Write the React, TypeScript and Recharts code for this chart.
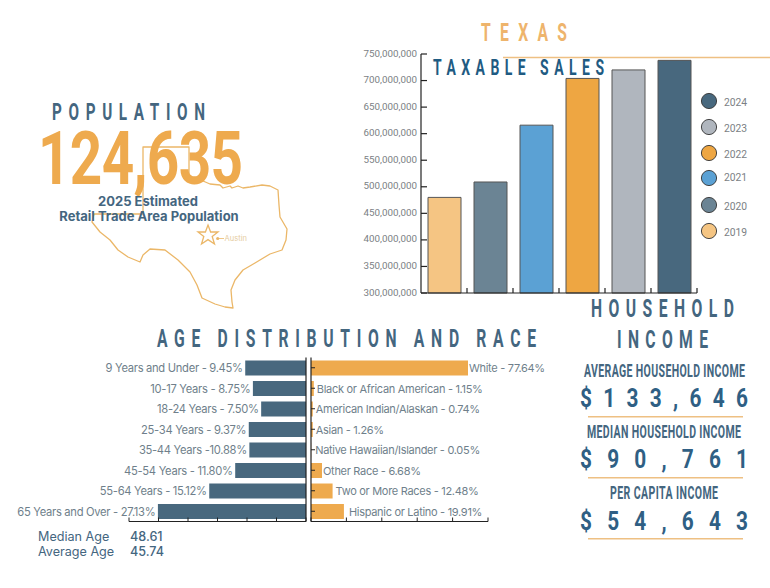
import React from "react";
import { BarChart, Bar, XAxis, YAxis, Cell, LabelList } from "recharts";

// ---- Taxable sales ----
const salesYears = ["2019", "2020", "2021", "2022", "2023", "2024"];
const salesValues = [480000000, 509000000, 616000000, 704000000, 720000000, 738000000];
const salesColors = ["#f5c583", "#6b8494", "#5ba1d4", "#eea642", "#b0b6be", "#48687e"];
const salesTicks = [300, 350, 400, 450, 500, 550, 600, 650, 700, 750].map((m) => m * 1000000);
const legendYears = ["2024", "2023", "2022", "2021", "2020", "2019"];
const legendColors = ["#48687e", "#b0b6be", "#eea642", "#5ba1d4", "#6b8494", "#f5c583"];
const legendRowY = [101, 127, 153, 178, 205, 231];
const legendTextY = [102, 128, 154, 177, 206, 232];

// ---- Age ----
const ageLabels = [
  "9 Years and Under - 9.45%", "10-17 Years - 8.75%", "18-24 Years - 7.50%", "25-34 Years - 9.37%",
  "35-44 Years -10.88%", "45-54 Years - 11.80%", "55-64 Years - 15.12%", "65 Years and Over - 27.13%",
];
// bar lengths as drawn in the picture, on the 0-30 axis
const ageBars = [10.3, 9.0, 7.6, 9.7, 9.6, 12.0, 16.4, 25.1];
const ageTicks = [0, 5, 10, 15, 20, 25, 30];

// ---- Race ----
const raceLabels = [
  "White - 77.64%", "Black or African American - 1.15%", "American Indian/Alaskan - 0.74%", "Asian - 1.26%",
  "Native Hawaiian/Islander - 0.05%", "Other Race - 6.68%", "Two or More Races - 12.48%", "Hispanic or Latino - 19.91%",
];
// bar lengths as drawn in the picture, on the 0-100 axis
const raceBars = [88.7, 1.6, 1.0, 1.0, 0.1, 6.2, 12.2, 18.6];
const raceTicks = [0, 20, 40, 60, 80, 100];
const raceLabelGap = [1, 3, 3, 3, 4, 1, 3, 5];

const salesData = salesYears.map((year, i) => ({ year, value: salesValues[i] }));
const ageData = ageLabels.map((label, i) => ({ label, value: ageBars[i] }));
const raceData = raceLabels.map((label, i) => ({ label, value: raceBars[i] }));

const INK = "#222";
const LABEL = "#6f7f8b";
const SLATE = "#44667f";
const ORANGE = "#eeaa4e";
const RULE = "#eec083";
const DISPLAY = "Roboto, 'Liberation Sans', sans-serif";
const BODY = "Inter, 'Noto Sans', sans-serif";

const texasPath =
  "M143 147 L189 147 L189 180 L203 181 L210 184 L220 185 L223 188 L230 186 L232 188 L238 186 L243 188 L250 187 L262 185 L270 186 L278 190 L279 205 L280 217 L287 229 L286 240 L282 250 L270 254 L255 263 L243 270 L235 280 L231 290 L232 302 L233 308 L225 307 L215 304 L202 298 L197 285 L190 272 L178 260 L165 250 L150 249 L143 255 L140 262 L128 257 L118 250 L110 240 L100 232 L92 222 L94 214 L143 214 Z";

function Head({ x1, x2, cy, cap, text, color, squeeze = 0.62, weight = 700 }: any) {
  const size = cap / 0.711;
  const width = x2 - x1;
  return (
    <text
      transform={`translate(${x1},${cy + cap / 2}) scale(${squeeze},1)`}
      textLength={width / squeeze}
      lengthAdjust="spacing"
      fontFamily={DISPLAY}
      fontWeight={weight}
      fontSize={size}
      fill={color}
    >
      {text}
    </text>
  );
}

const SalesYTick = ({ x, y, payload }: any) => (
  <g>
    <line x1={x} x2={x + 6} y1={y} y2={y} stroke={INK} strokeWidth={1.2} />
    <text x={x - 4} y={y + 2.5} textAnchor="end" fontFamily={DISPLAY} fontSize={9.8} fill="#7b7f84">
      {payload.value.toLocaleString("en-US")}
    </text>
  </g>
);

const SalesXTick = ({ x, y }: any) => (
  <line x1={x + 23} x2={x + 23} y1={y} y2={y - 5} stroke={INK} strokeWidth={1.2} />
);

const UpTick = ({ x, y }: any) => <line x1={x} x2={x} y1={y} y2={y - 4} stroke={INK} strokeWidth={1} />;

const RaceYTick = ({ x, y }: any) => <line x1={x} x2={x + 4} y1={y} y2={y} stroke={INK} strokeWidth={1} />;

const AgeLabel = ({ x, y, width, height, value }: any) => (
  <text
    x={Math.min(x, x + width) - 2.5}
    y={y + height / 2 + 4}
    textAnchor="end"
    fontFamily={BODY}
    fontSize={11.2}
    letterSpacing={-0.3}
    fill={LABEL}
  >
    {value}
  </text>
);

const RaceLabel = ({ x, y, width, height, value, index }: any) => (
  <text
    x={x + width + raceLabelGap[index]}
    y={y + height / 2 + 4}
    fontFamily={BODY}
    fontSize={11}
    letterSpacing={-0.3}
    fill={LABEL}
  >
    {value}
  </text>
);

export default function App() {
  return (
    <div style={{ position: "absolute", left: 0, top: 0, width: 770, height: 588, background: "#fff", overflow: "hidden" }}>
      <svg width={770} height={588} style={{ position: "absolute", left: 0, top: 0 }}>
        <path d={texasPath} fill="none" stroke="#ebb768" strokeWidth={1.3} strokeLinejoin="round" />
        <polygon
          points="208,225 210.6,232 218,232 212.2,236.5 214.5,244 208,239.6 201.5,244 203.8,236.5 198,232 205.4,232"
          fill="none"
          stroke="#ebb768"
          strokeWidth={1.3}
        />
        <circle cx={217.7} cy={238.5} r={1.6} fill="#ebb768" />
        <line x1={218} x2={224} y1={238.5} y2={238.5} stroke="#ebb768" strokeWidth={0.8} />
        <text x={224.5} y={241.3} fontFamily={BODY} fontSize={7.6} fill="#e6cda2">Austin</text>

        <line x1={503} x2={770} y1={57.5} y2={57.5} stroke={RULE} strokeWidth={1.6} />
        <Head x1={481} x2={567} cy={32} cap={18} text="TEXAS" color="#eeb46c" />
        <Head x1={433} x2={604} cy={67} cap={16} text="TAXABLE SALES" color="#1f5b82" />
        <Head x1={52} x2={205} cy={111.5} cap={17.5} text="POPULATION" color={SLATE} />
        <Head x1={38} x2={243} cy={157.5} cap={53} text="124,635" color={ORANGE} squeeze={0.76} weight={700} />
        <text x={148} y={206.2} textAnchor="middle" fontFamily={BODY} fontWeight={700} fontSize={13} fill={SLATE}>2025 Estimated</text>
        <text x={149} y={221.2} textAnchor="middle" fontFamily={BODY} fontWeight={700} fontSize={13} fill={SLATE}>Retail Trade Area Population</text>

        <Head x1={157} x2={536} cy={338} cap={18} text="AGE DISTRIBUTION AND RACE" color={SLATE} />

        <Head x1={591} x2={734} cy={308} cap={18} text="HOUSEHOLD" color={SLATE} />
        <Head x1={617} x2={708} cy={339} cap={18} text="INCOME" color={SLATE} />

        <Head x1={584} x2={745} cy={371} cap={12.5} text="AVERAGE HOUSEHOLD INCOME" color={SLATE} squeeze={0.6} />
        <Head x1={580} x2={748} cy={398} cap={18.5} text="$133,646" color="#2f5f84" squeeze={0.8} />
        <line x1={588} x2={743} y1={416.7} y2={416.7} stroke={RULE} strokeWidth={1.6} />
        <Head x1={587} x2={741} cy={431.7} cap={12.5} text="MEDIAN HOUSEHOLD INCOME" color={SLATE} squeeze={0.6} />
        <Head x1={580} x2={748} cy={459} cap={18.5} text="$90,761" color="#2f5f84" squeeze={0.8} />
        <line x1={588} x2={743} y1={477.7} y2={477.7} stroke={RULE} strokeWidth={1.6} />
        <Head x1={610} x2={718} cy={493} cap={12.5} text="PER CAPITA INCOME" color={SLATE} squeeze={0.6} />
        <Head x1={580} x2={748} cy={520.7} cap={18.5} text="$54,643" color="#2f5f84" squeeze={0.8} />
        <line x1={588} x2={743} y1={538.7} y2={538.7} stroke={RULE} strokeWidth={1.6} />

        <text x={38} y={541} fontFamily={BODY} fontSize={12.6} fill={SLATE}>Median Age</text>
        <text x={38} y={556} fontFamily={BODY} fontSize={12.6} fill={SLATE}>Average Age</text>
        <text x={130} y={541} fontFamily={BODY} fontSize={12.6} fontWeight={500} fill={SLATE}>48.61</text>
        <text x={130} y={556} fontFamily={BODY} fontSize={12.6} fontWeight={500} fill={SLATE}>45.74</text>

        {legendYears.map((year, i) => (
          <g key={year}>
            <circle cx={709} cy={legendRowY[i]} r={7.6} fill={legendColors[i]} stroke="#333" strokeWidth={0.9} />
            <text x={724} y={legendTextY[i] + 3.6} fontFamily={DISPLAY} fontSize={10.3} fill="#7b7f84">{year}</text>
          </g>
        ))}
      </svg>

      {/* Taxable sales */}
      <div style={{ position: "absolute", left: 360, top: 44 }}>
        <BarChart width={340} height={254} data={salesData} margin={{ top: 10, right: 3, bottom: 0, left: 0 }} barSize={33}>
          <XAxis dataKey="year" height={5} tickSize={0} tickMargin={0} tick={SalesXTick} axisLine={{ stroke: INK, strokeWidth: 1.2 }} interval={0} />
          <YAxis width={61} domain={[300000000, 750000000]} ticks={salesTicks} interval={0} tickSize={0} tickMargin={0} tick={SalesYTick} axisLine={{ stroke: INK, strokeWidth: 1.2 }} />
          <Bar dataKey="value" isAnimationActive={false} stroke="#555" strokeWidth={1}>
            {salesData.map((d, i) => (
              <Cell key={d.year} fill={salesColors[i]} />
            ))}
          </Bar>
        </BarChart>
      </div>

      {/* Age */}
      <div style={{ position: "absolute", left: 0, top: 350 }}>
        <BarChart width={308} height={178} data={ageData} layout="vertical" margin={{ top: 7.5, right: 1, bottom: 5.5, left: 129 }} barSize={15}>
          <XAxis type="number" reversed domain={[0, 30]} ticks={ageTicks} interval={0} height={1} tickSize={0} tickMargin={0} tick={UpTick} axisLine={{ stroke: INK, strokeWidth: 1.2 }} />
          <YAxis type="category" dataKey="label" orientation="right" width={1} tick={false} tickLine={false} axisLine={{ stroke: INK, strokeWidth: 1.2 }} />
          <Bar dataKey="value" fill="#48687e" isAnimationActive={false}>
            <LabelList dataKey="label" content={AgeLabel} />
          </Bar>
        </BarChart>
      </div>

      {/* Race */}
      <div style={{ position: "absolute", left: 309, top: 350 }}>
        <BarChart width={260} height={178} data={raceData} layout="vertical" margin={{ top: 7.5, right: 81, bottom: 5.5, left: 1 }} barSize={15}>
          <XAxis type="number" domain={[0, 100]} ticks={raceTicks} interval={0} height={1} tickSize={0} tickMargin={0} tick={UpTick} axisLine={{ stroke: INK, strokeWidth: 1.2 }} />
          <YAxis type="category" dataKey="label" width={1} tickSize={0} tickMargin={0} interval={0} tick={RaceYTick} axisLine={{ stroke: INK, strokeWidth: 1.2 }} />
          <Bar dataKey="value" fill={ORANGE} isAnimationActive={false}>
            <LabelList dataKey="label" content={RaceLabel} />
          </Bar>
        </BarChart>
      </div>
    </div>
  );
}
